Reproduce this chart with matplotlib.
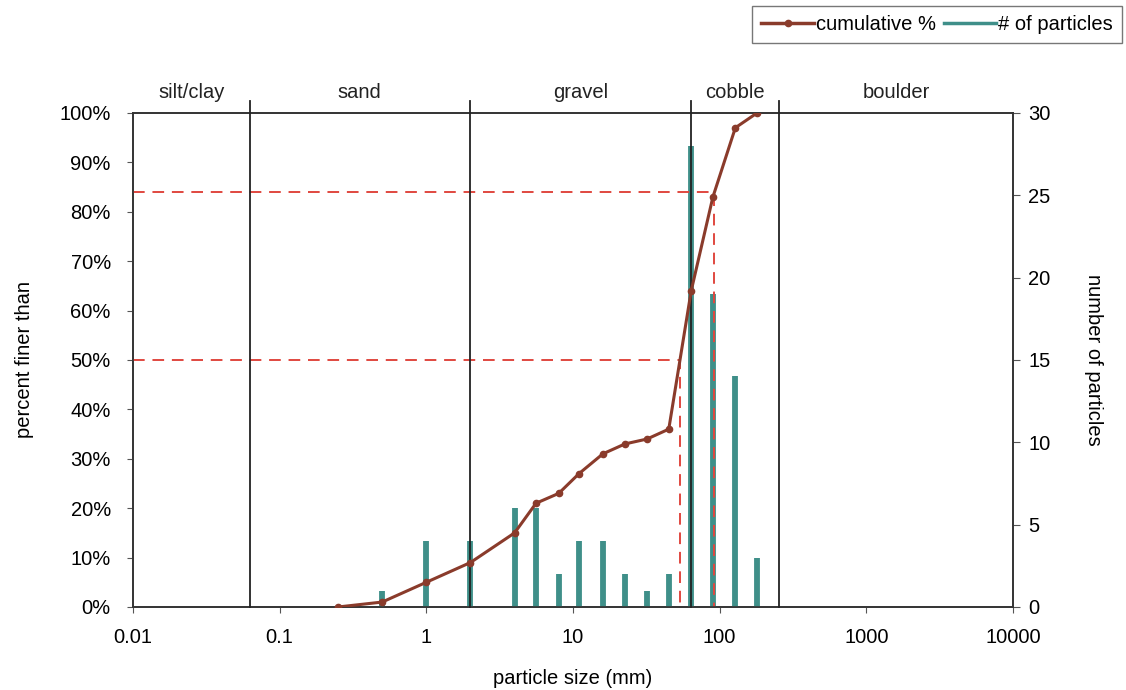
import matplotlib
matplotlib.use('Agg')
import matplotlib.pyplot as plt
from matplotlib.ticker import FixedLocator, FuncFormatter, NullFormatter
from matplotlib.lines import Line2D
from matplotlib import rcParams

rcParams['font.family'] = ['Liberation Sans', 'DejaVu Sans']

# sieve sizes (mm) and counts
sizes = [0.5, 1, 2, 4, 5.6, 8, 11, 16, 22.6, 32, 45, 64, 90, 128, 180]
counts = [1, 4, 4, 6, 6, 2, 4, 4, 2, 1, 2, 28, 19, 14, 3]

cum_sizes = [0.25, 0.5, 1, 2, 4, 5.6, 8, 11, 16, 22.6, 32, 45, 64, 90, 128, 180]
cum_pct = [0, 1, 5, 9, 15, 21, 23, 27, 31, 33, 34, 36, 64, 83, 97, 100]

# size class boundaries and names
class_bounds = [0.0625, 2, 64, 256]
class_names = ['silt/clay', 'sand', 'gravel', 'cobble', 'boulder']
class_label_x = [0.025, 0.35, 11.3, 128, 1600]

# D50 / D84
d_pct = [50, 84]
d_size = [54, 92]

BROWN = '#8a3b2b'
TEAL = '#3f8f89'
RED = '#e0483f'
FS = 14.5

fig = plt.figure(figsize=(11.26, 6.9), dpi=100)
ax = fig.add_axes([0.1181, 0.1203, 0.7815, 0.716])
ax2 = ax.twinx()

ax.set_xscale('log')
ax.set_xlim(0.01, 10000)
ax.set_ylim(0, 100)
ax2.set_ylim(0, 30)

# faint minor grid, behind everything
ax2.set_axisbelow(True)
ax2.grid(True, which='minor', axis='x', color='#f3f3f3', lw=0.8)

# class boundary lines and names
for b in class_bounds:
    ax.plot([b, b], [0, 102.5], color='#222222', lw=1.3, clip_on=False, zorder=3)
for name, x in zip(class_names, class_label_x):
    ax.text(x, 102.3, name, ha='center', va='bottom', fontsize=FS, color='#222222')

# D50/D84 dashed lines
for p, s in zip(d_pct, d_size):
    ax.plot([0.01, s, s], [p, p, 0], color=RED, lw=1.4, ls=(0, (6, 4)), zorder=2)

# particle counts
ax2.vlines(sizes, 0, counts, color=TEAL, lw=4.2, zorder=3)

# cumulative curve
ax.plot(cum_sizes, cum_pct, color=BROWN, lw=2.2, marker='o', ms=4.5, zorder=5)
ax.set_zorder(ax2.get_zorder() + 1)
ax.patch.set_visible(False)

ax.xaxis.set_major_locator(FixedLocator([0.01, 0.1, 1, 10, 100, 1000, 10000]))
ax.xaxis.set_major_formatter(FuncFormatter(lambda v, p: ('%g' % v)))
ax.xaxis.set_minor_formatter(NullFormatter())
ax.tick_params(axis='x', which='minor', length=0)
ax.set_yticks(range(0, 101, 10))
ax.yaxis.set_major_formatter(FuncFormatter(lambda v, p: '%d%%' % v))
ax2.set_yticks(range(0, 31, 5))

ax.tick_params(axis='y', which='major', labelsize=FS, length=4, color='#555555', pad=12)
ax.tick_params(axis='x', which='major', labelsize=FS, length=4, color='#555555', pad=11)
ax2.tick_params(axis='y', labelsize=FS, length=5, color='#555555', pad=6)

for a in (ax, ax2):
    for sp in a.spines.values():
        sp.set_color('#333333')
        sp.set_linewidth(1.2)

ax.set_xlabel('particle size (mm)', fontsize=FS, labelpad=16)
ax.set_ylabel('percent finer than', fontsize=FS, labelpad=18)
ax2.set_ylabel('number of particles', fontsize=FS, rotation=-90, labelpad=38)

handles = [Line2D([], [], color=BROWN, lw=2.5, marker='o', ms=4.5),
           Line2D([], [], color=TEAL, lw=2.5)]
leg = fig.legend(handles, ['cumulative %', '# of particles'], loc='upper right',
                 bbox_to_anchor=(1.0, 0.997), ncol=2, fontsize=14.5,
                 frameon=True, fancybox=False, edgecolor='#555555',
                 handlelength=2.6, handletextpad=0.1, columnspacing=0.4,
                 borderpad=0.45, borderaxespad=0.2)
leg.get_frame().set_linewidth(1.0)

fig.savefig('out.png', dpi=100)
